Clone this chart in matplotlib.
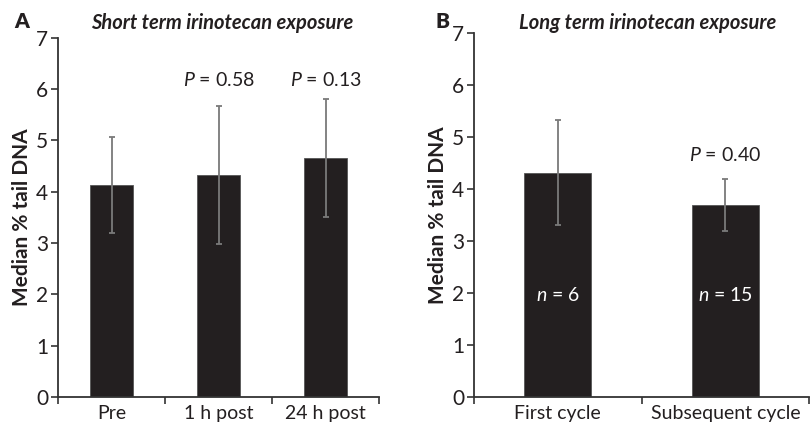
import matplotlib
matplotlib.use('Agg')
import matplotlib.pyplot as plt
import numpy as np

plt.rcParams['font.family'] = ['Lato', 'DejaVu Sans']
plt.rcParams['mathtext.fontset'] = 'custom'
plt.rcParams['mathtext.it'] = 'Lato:italic'
plt.rcParams['mathtext.rm'] = 'Lato'

# panel A: short term exposure
cats_a = ['Pre', '1 h post', '24 h post']
med_a = [4.13, 4.33, 4.65]
low_a = [3.20, 2.98, 3.50]
high_a = [5.07, 5.68, 5.80]
p_a = [None, '0.58', '0.13']

# panel B: long term exposure
cats_b = ['First cycle', 'Subsequent cycle']
med_b = [4.30, 3.70]
low_b = [3.30, 3.20]
high_b = [5.33, 4.20]
p_b = [None, '0.40']
n_b = ['6', '15']

BAR = '#231f20'
ERR = '#7a7a7a'
TXT = '#231f20'


def draw_panel(ax, cats, med, low, high, pvals, p_y):
    x = np.arange(len(cats)) + 0.5
    med = np.array(med)
    yerr = [med - np.array(low), np.array(high) - med]
    ax.bar(x, med, width=0.4, color=BAR, edgecolor='#555555', linewidth=0.6, zorder=2)
    ax.errorbar(x, med, yerr=yerr, fmt='none', ecolor=ERR, elinewidth=1.3,
                capsize=2.5, capthick=1.3, zorder=3)
    for xi, p in zip(x, pvals):
        if p:
            ax.text(xi, p_y, r'$P$ = ' + p, ha='center', va='center', fontsize=14, color=TXT)
    ax.set_xlim(0, len(cats))
    ax.set_ylim(0, 7)
    ax.set_yticks(range(8))
    ax.set_xticks(range(len(cats) + 1))
    ax.set_xticklabels([])
    ax.set_xticks(x, minor=True)
    ax.set_xticklabels(cats, minor=True, fontsize=14, color=TXT)
    ax.tick_params(axis='x', which='minor', length=0, pad=6)
    ax.tick_params(axis='x', which='major', direction='out', length=5, width=1.2, color='#333333')
    ax.tick_params(axis='y', direction='out', length=5, width=1.2, color='#333333',
                   labelsize=15, labelcolor=TXT, pad=2)
    for s in ['top', 'right']:
        ax.spines[s].set_visible(False)
    for s in ['left', 'bottom']:
        ax.spines[s].set_linewidth(1.3)
        ax.spines[s].set_color('#333333')
    ax.set_ylabel('Median % tail DNA', fontsize=15, fontweight='bold', color=TXT, labelpad=3)


fig = plt.figure(figsize=(8.1, 4.23), dpi=100)
ax_a = fig.add_axes([0.0716, 0.0615, 0.3964, 0.849])
ax_b = fig.add_axes([0.585, 0.0615, 0.414, 0.8605])

draw_panel(ax_a, cats_a, med_a, low_a, high_a, p_a, 6.18)
draw_panel(ax_b, cats_b, med_b, low_b, high_b, p_b, 4.65)

for xi, n in zip(np.arange(len(cats_b)) + 0.5, n_b):
    ax_b.text(xi, 1.96, r'$n$ = ' + n, ha='center', va='center', fontsize=14, color='white')

fig.text(0.027, 0.948, 'A', fontsize=15, fontweight='heavy', ha='center', va='center', color=TXT)
fig.text(0.274, 0.946, 'Short term irinotecan exposure', fontsize=14.5, fontweight='bold',
         style='italic', ha='center', va='center', color=TXT)
fig.text(0.546, 0.948, 'B', fontsize=15, fontweight='heavy', ha='center', va='center', color=TXT)
fig.text(0.80, 0.946, 'Long term irinotecan exposure', fontsize=14.5, fontweight='bold',
         style='italic', ha='center', va='center', color=TXT)

fig.savefig('out.png', dpi=100)
